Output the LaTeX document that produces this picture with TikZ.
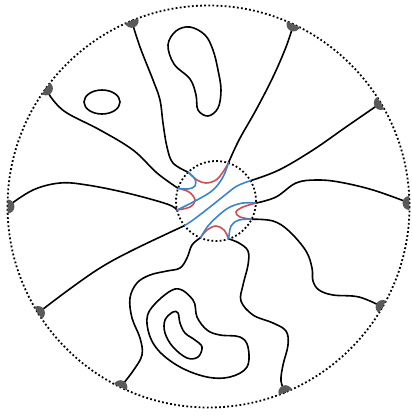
\documentclass[tikz,border=0pt]{standalone}
\begin{document}
\begin{tikzpicture}[x=1pt,y=-1pt,
  dotc/.style={line width=1.8pt, dash pattern=on 1.8pt off 2.3pt},
  strand/.style={line width=1.6pt, black, line cap=round},
  bstrand/.style={line width=1.6pt, draw=myblue, line cap=round},
  rstrand/.style={line width=1.6pt, draw=myred, line cap=round},
  markfill/.style={fill=markgray}]
\definecolor{myblue}{RGB}{58,134,206}
\definecolor{myred}{RGB}{205,80,80}
\definecolor{markgray}{RGB}{90,90,90}
\useasboundingbox (0,0) rectangle (412,416);
% centers
\coordinate (C) at (208.5,206.5);
\coordinate (S) at (216,201);
% outer markers
\coordinate (m1) at (131.6,20.8);
\coordinate (m2) at (45.9,88.4);
\coordinate (m3) at (7.5,206.5);
\coordinate (m4) at (38.0,313.0);
\coordinate (m5) at (120.4,387.2);
\coordinate (m6) at (285.4,392.2);
\coordinate (m7) at (382.6,307.0);
\coordinate (m8) at (409.5,203.0);
\coordinate (m9) at (380.8,103.0);
\coordinate (m10) at (293.5,24.4);
% inner points
\coordinate (a) at (228.4,163.0);
\coordinate (b) at (250.5,180.7);
\coordinate (c) at (255.9,203.1);
\coordinate (d) at (251.6,219.2);
\coordinate (e) at (228.7,238.9);
\coordinate (f) at (200.4,237.8);
\coordinate (g) at (184.5,225.6);
\coordinate (h) at (177.0,210.0);
\coordinate (i) at (178.1,188.3);
\coordinate (j) at (188.2,172.2);
% dotted circles
\draw[dotc] (C) circle[radius=201];
\draw[dotc] (S) circle[radius=40];
% black strands
\draw[strand] plot[smooth, tension=0.6] coordinates {(m1) (140,47) (153,80) (160,100) (163,123) (167,147) (173,163) (j)};
\draw[strand] plot[smooth, tension=0.6] coordinates {(m2) (53,100) (67,113) (100,130) (133,150) (157,173) (i)};
\draw[strand] plot[smooth, tension=0.6] coordinates {(m3) (33,190) (60,183) (87,185) (127,193) (167,204) (h)};
\draw[strand] plot[smooth, tension=0.6] coordinates {(m4) (67,291) (100,268) (133,250) (g)};
\draw[strand] plot[smooth, tension=0.6] coordinates {(m5) (133,371) (142,355) (140,338) (132,318) (130,298) (137,283) (150,275) (167,271) (180,268) (187,258) (192,245) (f)};
\draw[strand] plot[smooth, tension=0.6] coordinates {(m6) (281,381) (283,365) (288,345) (286,331) (273,323) (253,315) (241,301) (243,285) (248,265) (248,251) (239,243) (e)};
\draw[strand] plot[smooth, tension=0.6] coordinates {(m7) (359,297) (333,295) (319,290) (313,281) (312,268) (306,251) (289,231) (273,221) (d)};
\draw[strand] plot[smooth, tension=0.6] coordinates {(m8) (373,190) (339,182) (316,180) (296,183) (276,197) (c)};
\draw[strand] plot[smooth, tension=0.6] coordinates {(m9) (346,127) (313,150) (279,170) (b)};
\draw[strand] plot[smooth, tension=0.6] coordinates {(m10) (286,47) (273,77) (256,110) (239,140) (a)};
% closed loops
\draw[strand] (102,102) ellipse[x radius=18, y radius=12];
\draw[strand] plot[smooth cycle, tension=0.6] coordinates {(190,27) (205,35) (213,50) (218,70) (221,90) (218,108) (208,116) (198,110) (196,95) (190,79) (174,64) (168,45) (176,31)};
\draw[strand] plot[smooth cycle, tension=0.6] coordinates {(175,289) (150,310) (148,330) (158,350) (180,367) (207,377) (230,377) (247,367) (248,347) (240,337) (220,335) (207,330) (197,317) (193,300)};
\draw[strand] plot[smooth cycle, tension=0.6] coordinates {(173,312) (165,320) (165,333) (173,347) (187,358) (198,357) (202,347) (195,340) (185,333) (180,323) (178,313)};
% red strands
\draw[rstrand] plot[smooth, tension=0.6] coordinates {(j) (197,180) (206,183) (216,180) (223,172) (a)};
\draw[rstrand] plot[smooth, tension=0.6] coordinates {(i) (189,192) (195,200) (190,207) (h)};
\draw[rstrand] plot[smooth, tension=0.6] coordinates {(c) (243,207) (236,212) (240,217) (d)};
\draw[rstrand] plot[smooth, tension=0.6] coordinates {(e) (224,230) (216,226) (207,230) (f)};
% blue strands
\draw[bstrand] plot[smooth, tension=0.6] coordinates {(j) (195,179) (195,186) (188,189) (i)};
\draw[bstrand] plot[smooth, tension=0.6] coordinates {(a) (223,177) (213,190) (197,200) (h)};
\draw[bstrand] plot[smooth, tension=0.6] coordinates {(b) (237,186) (225,195) (210,207) (193,220) (g)};
\draw[bstrand] plot[smooth, tension=0.6] coordinates {(c) (243,203) (230,207) (219,215) (208,226) (f)};
\draw[bstrand] plot[smooth, tension=0.6] coordinates {(d) (239,220) (231,226) (e)};
% markers
\begin{scope}
\clip (C) circle[radius=201];
\foreach \m in {m1,m2,m3,m4,m5,m6,m7,m8,m9,m10} \fill[markfill] (\m) circle[radius=7];
\end{scope}
\end{tikzpicture}
\end{document}
